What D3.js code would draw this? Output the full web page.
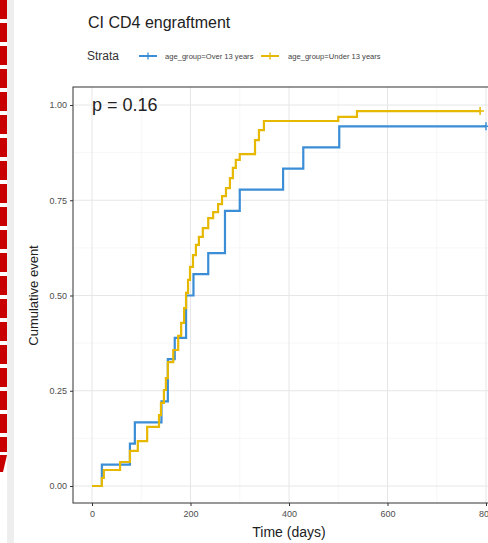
<!DOCTYPE html>
<html><head><meta charset="utf-8">
<script src="https://cdn.jsdelivr.net/npm/d3@7"></script>
<style>body{margin:0;background:#fff}svg{display:block;font-family:"Liberation Sans",Arial,sans-serif}</style>
</head><body>
<script>
const title = "CI CD4 engraftment";
const strataLabels = ["age_group=Over 13 years", "age_group=Under 13 years"];
const pText = "p = 0.16";
const xTicks = [0, 200, 400, 600, 800];
const yTicks = [0, 0.25, 0.5, 0.75, 1];
// Over 13 years: step times and cumulative event values
const overTime = [0, 20, 77, 87, 141, 154, 168, 191, 206, 236, 270, 300, 388, 429, 502, 800];
const overVal  = [0, 0.056, 0.111, 0.167, 0.222, 0.333, 0.389, 0.5, 0.556, 0.611, 0.722, 0.778, 0.833, 0.889, 0.944, 0.944];
// Under 13 years
const underTime = [0, 20, 24, 57, 77, 93, 112, 136, 140, 146, 150, 154, 165, 175, 181, 187, 191, 195, 199, 205, 211, 217, 225, 236, 246, 256, 264, 272, 280, 286, 292, 300, 331, 339, 349, 500, 538, 788];
const underVal  = [0, 0.021, 0.042, 0.063, 0.092, 0.118, 0.155, 0.186, 0.218, 0.252, 0.283, 0.325, 0.357, 0.394, 0.428, 0.467, 0.507, 0.541, 0.575, 0.606, 0.633, 0.654, 0.677, 0.703, 0.719, 0.740, 0.761, 0.782, 0.808, 0.835, 0.856, 0.871, 0.908, 0.934, 0.958, 0.969, 0.984, 0.984];
const colors = ["#3B8ED6", "#E7B800"];

(function () {
const W = 488, H = 543;
const svg = d3.select("body").append("svg").attr("width", W).attr("height", H);

// left red dashed annotation + grey band
svg.append("rect").attr("x", 7).attr("y", 0).attr("width", 7).attr("height", H).attr("fill", "#eeeeee");
svg.append("line").attr("x1", 3.5).attr("x2", 3.5).attr("y1", 0).attr("y2", 452)
  .attr("stroke", "#c80000").attr("stroke-width", 7).attr("stroke-dasharray", "19,4");
svg.append("path").attr("d", "M0,455 L7,455 L3,472 L0,472 Z").attr("fill", "#c80000");

const pLeft = 73, pTop = 87, pBottom = 503;
const x = d3.scaleLinear().domain([-38.6, 840]).range([pLeft, 92 + 840 * 0.4925]);
const y = d3.scaleLinear().domain([0, 1]).range([486, 105]);
const pRight = x(840);

svg.append("defs").append("clipPath").attr("id", "clip")
  .append("rect").attr("x", pLeft).attr("y", pTop).attr("width", pRight - pLeft).attr("height", pBottom - pTop);

const g = svg.append("g");
// minor grid
[100, 300, 500, 700].forEach(t => g.append("line").attr("x1", x(t)).attr("x2", x(t)).attr("y1", pTop).attr("y2", pBottom).attr("stroke", "#f2f2f2").attr("stroke-width", 0.6));
[0.125, 0.375, 0.625, 0.875].forEach(v => g.append("line").attr("x1", pLeft).attr("x2", pRight).attr("y1", y(v)).attr("y2", y(v)).attr("stroke", "#f2f2f2").attr("stroke-width", 0.6));
// major grid
xTicks.forEach(t => g.append("line").attr("x1", x(t)).attr("x2", x(t)).attr("y1", pTop).attr("y2", pBottom).attr("stroke", "#e6e6e6").attr("stroke-width", 1));
yTicks.forEach(v => g.append("line").attr("x1", pLeft).attr("x2", pRight).attr("y1", y(v)).attr("y2", y(v)).attr("stroke", "#e6e6e6").attr("stroke-width", 1));

// curves
const series = [[overTime, overVal], [underTime, underVal]];
const line = d3.line().x(d => x(d[0])).y(d => y(d[1])).curve(d3.curveStepAfter);
const cg = svg.append("g").attr("clip-path", "url(#clip)");
series.forEach((s, i) => {
  const pts = s[0].map((t, k) => [t, s[1][k]]);
  cg.append("path").attr("d", line(pts)).attr("fill", "none").attr("stroke", colors[i]).attr("stroke-width", 2.2);
  const last = pts[pts.length - 1];
  cg.append("path").attr("d", `M${x(last[0]) - 4},${y(last[1])}h8M${x(last[0])},${y(last[1]) - 4}v8`)
    .attr("stroke", colors[i]).attr("stroke-width", 1.5);
});

// panel border
svg.append("rect").attr("x", pLeft).attr("y", pTop).attr("width", pRight - pLeft).attr("height", pBottom - pTop)
  .attr("fill", "none").attr("stroke", "#333").attr("stroke-width", 1);

// axes
const xa = svg.append("g").attr("transform", `translate(0,${pBottom})`)
  .call(d3.axisBottom(x).tickValues(xTicks).tickSize(3).tickPadding(5).tickFormat(d3.format("d")));
const ya = svg.append("g").attr("transform", `translate(${pLeft},0)`)
  .call(d3.axisLeft(y).tickValues(yTicks).tickSize(3).tickPadding(3).tickFormat(d3.format(".2f")));
[xa, ya].forEach(a => {
  a.select(".domain").remove();
  a.selectAll(".tick line").attr("stroke", "#333");
  a.selectAll(".tick text").attr("fill", "#4d4d4d").style("font-size", "9px").style("font-family", "Liberation Sans, Arial");
});

// p value
svg.append("text").attr("x", x(0)).attr("y", 111).attr("font-size", 18).attr("fill", "#222").text(pText);

// titles
svg.append("text").attr("x", 88).attr("y", 28).attr("font-size", 16).attr("fill", "#222").text(title);
svg.append("text").attr("x", 289).attr("y", 537).attr("text-anchor", "middle").attr("font-size", 14).attr("fill", "#222").text("Time (days)");
svg.append("text").attr("transform", `translate(38,${y(0.5)}) rotate(-90)`).attr("text-anchor", "middle").attr("font-size", 13).attr("fill", "#222").text("Cumulative event");

// legend
const lg = svg.append("g");
lg.append("text").attr("x", 87).attr("y", 60).attr("font-size", 12).attr("fill", "#333").text("Strata");
const keyX = [139, 261], txtX = [165, 288];
strataLabels.forEach((lab, i) => {
  lg.append("line").attr("x1", keyX[i]).attr("x2", keyX[i] + 18).attr("y1", 56).attr("y2", 56).attr("stroke", colors[i]).attr("stroke-width", 2);
  lg.append("path").attr("d", `M${keyX[i] + 5.5},56h7M${keyX[i] + 9},52.5v7`).attr("stroke", colors[i]).attr("stroke-width", 1.3);
  lg.append("text").attr("x", txtX[i]).attr("y", 59).attr("font-size", 7.6).attr("fill", "#444").text(lab);
});
})();
</script>
</body></html>
